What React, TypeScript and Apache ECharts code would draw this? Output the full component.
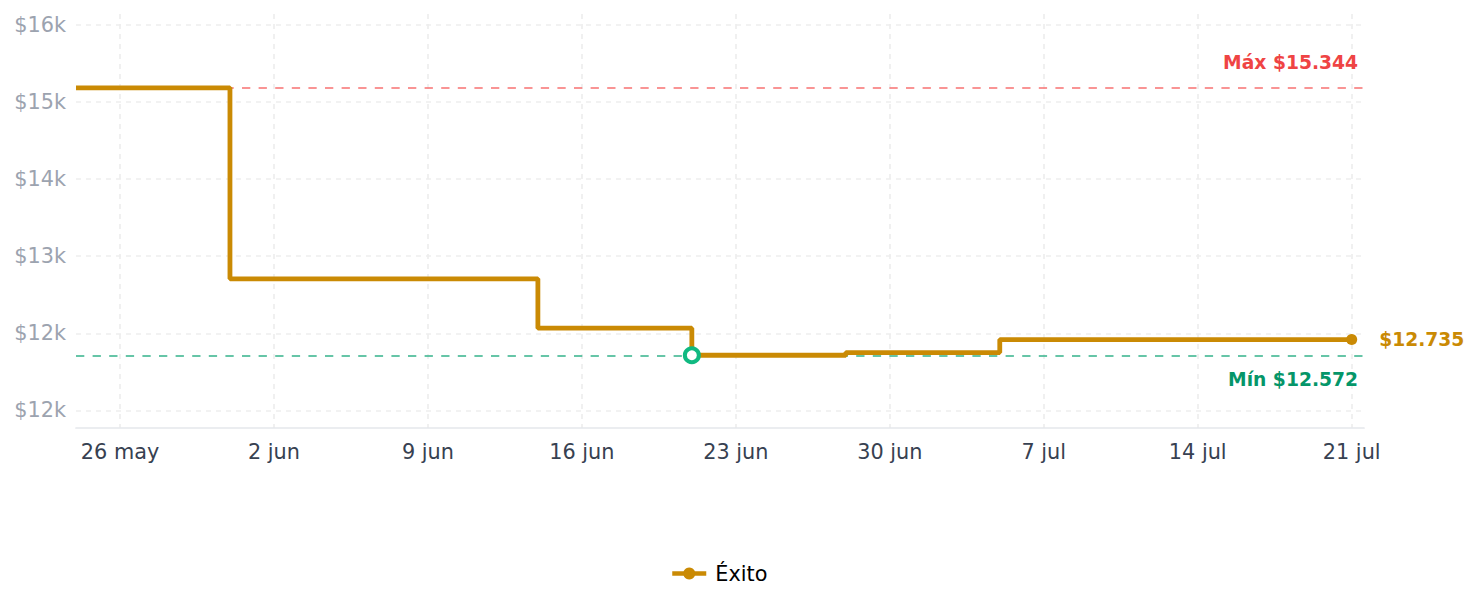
import React, { useEffect, useRef } from "react";
import * as echarts from "echarts";

// ---- Data ----
const seriesName = "Éxito";
const dates = [
  "2025-05-24",
  "2025-05-31",
  "2025-06-07",
  "2025-06-14",
  "2025-06-21",
  "2025-06-28",
  "2025-07-05",
  "2025-07-12",
  "2025-07-19",
  "2025-07-21",
];
const prices = [15344, 13364, 13364, 12853, 12572, 12600, 12735, 12735, 12735, 12735];
const maxPrice = 15344;
const minPrice = 12572;
const minIndex = 4;
const lastIndex = 9;
const monthNames = ["ene", "feb", "mar", "abr", "may", "jun", "jul", "ago", "sept", "oct", "nov", "dic"];

const BASE = Date.UTC(2025, 4, 26); // 26 may = day 0
const DAY = 86400000;
const toDay = (s: string) => {
  const [y, m, d] = s.split("-").map(Number);
  return (Date.UTC(y, m - 1, d) - BASE) / DAY;
};
const fmtMoney = (v: number) => "$" + String(Math.round(v)).replace(/\B(?=(\d{3})+(?!\d))/g, ".");

const GOLD = "#ca8a04";
const FONT = "DejaVu Sans";

export default function App() {
  const ref = useRef<HTMLDivElement>(null);
  useEffect(() => {
    if (!ref.current) return;
    const chart = echarts.init(ref.current, undefined, { renderer: "svg" });
    const data = dates.map((d, i) => {
      const item: any = { value: [toDay(d), prices[i]] };
      if (i === minIndex) {
        item.symbol = "circle";
        item.symbolSize = 14;
        item.itemStyle = { color: "#ffffff", borderColor: "#10b981", borderWidth: 4 };
      }
      if (i === lastIndex) {
        item.symbol = "circle";
        item.symbolSize = 11;
        item.itemStyle = { color: GOLD, borderWidth: 0 };
        item.label = {
          show: true,
          position: "right",
          distance: 22,
          formatter: () => fmtMoney(prices[i]),
          color: GOLD,
          fontWeight: "bold",
          fontSize: 18.7,
          fontFamily: FONT,
        };
      }
      return item;
    });
    chart.setOption({
      animation: false,
      textStyle: { fontFamily: FONT },
      grid: { left: 76, top: 14, width: 1288, height: 414, containLabel: false },
      legend: {
        left: 665,
        top: 558,
        itemWidth: 34,
        itemHeight: 15,
        itemGap: 10,
        textStyle: { fontSize: 20.8, color: "#000", fontFamily: FONT, padding: [0, 0, 0, 4] },
        data: [
          {
            name: seriesName,
            itemStyle: { color: GOLD },
            lineStyle: { color: GOLD, width: 4.5 },
          },
        ],
      },
      xAxis: {
        type: "value",
        min: -2,
        max: 56.56,
        minInterval: 7,
        maxInterval: 7,
        splitNumber: 8,
        axisLine: { show: true, lineStyle: { color: "#e5e7eb", width: 1.7 } },
        axisTick: { show: false },
        axisLabel: {
          showMinLabel: false,
          showMaxLabel: false,
          margin: 13,
          fontSize: 20.8,
          color: "#374151",
          fontFamily: FONT,
          formatter: (v: number) => {
            const d = new Date(BASE + Math.round(v) * DAY);
            return d.getUTCDate() + " " + monthNames[d.getUTCMonth()];
          },
        },
        splitLine: {
          show: true,
          showMinLine: false,
          showMaxLine: false,
          lineStyle: { color: "#eeeeee", width: 1.7, type: [5, 5] },
        },
      },
      yAxis: {
        type: "value",
        min: 11818,
        max: 16109,
        minInterval: 800,
        maxInterval: 800,
        splitNumber: 5,
        axisLine: { show: false },
        axisTick: { show: false },
        axisLabel: {
          showMinLabel: false,
          showMaxLabel: false,
          margin: 10,
          fontSize: 20.8,
          color: "#9ca3af",
          fontFamily: FONT,
          formatter: (v: number) => "$" + Math.floor(v / 1000) + "k",
        },
        splitLine: {
          show: true,
          showMinLine: false,
          showMaxLine: false,
          lineStyle: { color: "#eeeeee", width: 1.7, type: [5, 5] },
        },
      },
      series: [
        {
          name: seriesName,
          type: "line",
          step: "end",
          z: 3,
          symbol: "none",
          showSymbol: true,
          color: GOLD,
          lineStyle: { color: GOLD, width: 4.8 },
          itemStyle: { color: GOLD },
          data,
          markLine: {
            z: 1,
            silent: true,
            symbol: "none",
            data: [
              {
                yAxis: maxPrice,
                lineStyle: { color: "#f87171", width: 1.7, type: [8.3, 8.3] },
                label: {
                  show: true,
                  position: "insideEndTop",
                  distance: [6, 16],
                  formatter: "Máx " + fmtMoney(maxPrice),
                  color: "#ef4444",
                  fontWeight: "bold",
                  fontSize: 18.7,
                  fontFamily: FONT,
                },
              },
              {
                yAxis: minPrice,
                lineStyle: { color: "#34b38a", width: 1.7, type: [8.3, 8.3] },
                label: {
                  show: true,
                  position: "insideEndBottom",
                  distance: [6, 15],
                  formatter: "Mín " + fmtMoney(minPrice),
                  color: "#059669",
                  fontWeight: "bold",
                  fontSize: 18.7,
                  fontFamily: FONT,
                },
              },
            ],
          },
        },
      ],
    });
    return () => chart.dispose();
  }, []);
  return (
    <div
      ref={ref}
      style={{ position: "fixed", left: 0, top: 0, width: 1478, height: 607, background: "#fff" }}
    />
  );
}
